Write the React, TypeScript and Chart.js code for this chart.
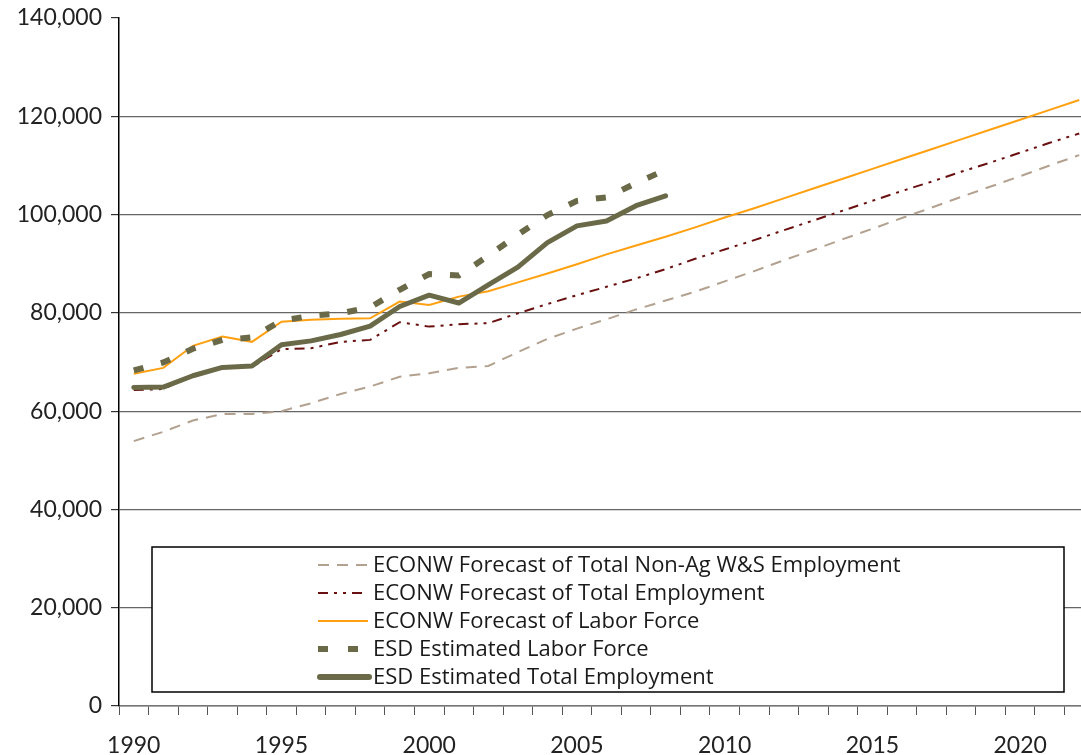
import React, { useEffect, useRef } from "react";
import { Chart, registerables } from "chart.js";

Chart.register(...registerables);

const years: number[] = [
  1990, 1991, 1992, 1993, 1994, 1995, 1996, 1997, 1998, 1999, 2000, 2001, 2002, 2003, 2004, 2005, 2006,
  2007, 2008, 2009, 2010, 2011, 2012, 2013, 2014, 2015, 2016, 2017, 2018, 2019, 2020, 2021, 2022,
];

const econwNonAg: number[] = [
  53900, 55800, 58100, 59400, 59400, 60000, 61600, 63500, 65000, 67000, 67700, 68800, 69200, 72000, 74700,
  76800, 78700, 80700, 82500, 84300, 86400, 88500, 90700, 92800, 95000, 97100, 99300, 101400, 103600,
  105700, 107800, 110000, 112100,
];

const econwTotalEmp: number[] = [
  64300, 64500, 67400, 69000, 69000, 72600, 72800, 74100, 74500, 78100, 77200, 77700, 77900, 79900, 81800,
  83600, 85300, 87000, 88900, 91000, 92900, 94800, 96800, 98800, 100800, 102800, 104800, 106700, 108700,
  110600, 112600, 114600, 116500,
];

const econwLaborForce: number[] = [
  67600, 68800, 73300, 75200, 74100, 78200, 78600, 78800, 78900, 82300, 81600, 83300, 84400, 86200, 88000,
  89900, 91900, 93700, 95500, 97400, 99400, 101300, 103300, 105300, 107300, 109300, 111300, 113300, 115300,
  117300, 119300, 121300, 123300,
];

const esdLaborForce: (number | null)[] = [
  68300, 69900, 72700, 74500, 75000, 78400, 79400, 79900, 81100, 84700, 87900, 87600, 91600, 95900, 99900,
  102800, 103500, 106400, 109100,
];

const esdTotalEmp: (number | null)[] = [
  64800, 64900, 67200, 68900, 69200, 73500, 74300, 75600, 77300, 81300, 83600, 82000, 85700, 89300, 94300,
  97700, 98700, 101800, 103800,
];

const seriesNames: string[] = [
  "ECONW Forecast of Total Non-Ag W&S Employment",
  "ECONW Forecast of Total Employment",
  "ECONW Forecast of Labor Force",
  "ESD Estimated Labor Force",
  "ESD Estimated Total Employment",
];

const TAN = "#b3a190";
const DARKRED = "#6a1010";
const ORANGE = "#ffa010";
const OLIVE = "#6b6a48";

const tickFont = { family: "Lato, 'Open Sans', sans-serif", size: 23 };

const legendPlugin = {
  id: "boxLegend",
  afterDatasetsDraw(chart: any) {
    const ctx = chart.ctx as CanvasRenderingContext2D;
    ctx.save();
    const left = 152, top = 547, w = 912, h = 145;
    ctx.fillStyle = "#ffffff";
    ctx.fillRect(left, top, w, h);
    ctx.strokeStyle = "#000000";
    ctx.lineWidth = 1.5;
    ctx.setLineDash([]);
    ctx.strokeRect(left, top, w, h);

    const styles = [
      { color: TAN, width: 2, dash: [11, 8], cap: "butt" },
      { color: DARKRED, width: 2, dash: [10, 6, 3, 6, 3, 6], cap: "butt" },
      { color: ORANGE, width: 2, dash: [], cap: "butt" },
      { color: OLIVE, width: 6, dash: [10, 20], cap: "butt" },
      { color: OLIVE, width: 6, dash: [], cap: "round" },
    ];
    ctx.font = "22px 'Open Sans', 'Noto Sans', sans-serif";
    ctx.textBaseline = "middle";
    ctx.textAlign = "left";
    seriesNames.forEach((name, i) => {
      const y = 565 + i * 28;
      const s = styles[i];
      ctx.beginPath();
      ctx.strokeStyle = s.color;
      ctx.lineWidth = s.width;
      ctx.setLineDash(s.dash);
      ctx.lineCap = s.cap as CanvasLineCap;
      const x0 = i === 4 ? 320 : 318;
      const x1 = i === 4 ? 369 : 368;
      ctx.moveTo(x0, y);
      ctx.lineTo(x1, y);
      ctx.stroke();
      ctx.setLineDash([]);
      ctx.fillStyle = "#1a1a1a";
      ctx.fillText(name, 373, y + 1);
    });
    ctx.restore();
  },
};

export default function App() {
  const canvasRef = useRef<HTMLCanvasElement | null>(null);

  useEffect(() => {
    const canvas = canvasRef.current;
    if (!canvas) return;
    const chart = new Chart(canvas, {
      type: "line",
      data: {
        labels: years.map(String),
        datasets: [
          {
            label: seriesNames[0],
            data: econwNonAg,
            borderColor: TAN,
            borderWidth: 2,
            borderDash: [11, 8],
            pointRadius: 0,
            tension: 0,
            order: 5,
          },
          {
            label: seriesNames[1],
            data: econwTotalEmp,
            borderColor: DARKRED,
            borderWidth: 2,
            borderDash: [10, 6, 3, 6, 3, 6],
            pointRadius: 0,
            tension: 0,
            order: 4,
          },
          {
            label: seriesNames[2],
            data: econwLaborForce,
            borderColor: ORANGE,
            borderWidth: 2,
            pointRadius: 0,
            tension: 0,
            order: 3,
          },
          {
            label: seriesNames[3],
            data: esdLaborForce,
            borderColor: OLIVE,
            borderWidth: 6,
            borderDash: [10, 18],
            borderCapStyle: "butt",
            pointRadius: 0,
            tension: 0,
            order: 2,
          },
          {
            label: seriesNames[4],
            data: esdTotalEmp,
            borderColor: OLIVE,
            borderWidth: 5,
            borderCapStyle: "round",
            borderJoinStyle: "round",
            pointRadius: 0,
            tension: 0,
            order: 1,
          },
        ],
      },
      options: {
        responsive: false,
        animation: false,
        devicePixelRatio: 1,
        layout: { padding: { top: 18, left: 0, right: 0, bottom: 0 } },
        plugins: {
          legend: { display: false },
          tooltip: { enabled: false },
        },
        scales: {
          x: {
            type: "category",
            offset: true,
            grid: {
              display: true,
              drawOnChartArea: false,
              drawTicks: true,
              tickLength: 9,
              offset: true,
              color: "#555",
            },
            border: { display: true, color: "#777", width: 1.5 },
            ticks: {
              autoSkip: false,
              maxRotation: 0,
              minRotation: 0,
              padding: 17,
              color: "#222",
              font: tickFont,
              callback: (_v: any, i: number) => (years[i] % 5 === 0 ? String(years[i]) : ""),
            },
            afterFit: (scale: any) => {
              scale.height = 49;
              scale.paddingLeft = 0;
              scale.paddingRight = 0;
            },
          },
          y: {
            min: 0,
            max: 140000,
            grid: {
              color: (c: any) => (c.tick && c.tick.value === 140000 ? "rgba(0,0,0,0)" : "#666"),
              tickColor: "#333",
              tickLength: 8,
              lineWidth: 1.2,
            },
            border: { display: true, color: "#000", width: 1.5 },
            ticks: {
              stepSize: 20000,
              padding: 9,
              color: "#222",
              font: tickFont,
              callback: (v: any) => Number(v).toLocaleString("en-US"),
            },
            afterFit: (scale: any) => {
              scale.width = 119;
              scale.paddingTop = 0;
              scale.paddingBottom = 0;
            },
          },
        },
      },
      plugins: [legendPlugin],
    });
    return () => chart.destroy();
  }, []);

  return (
    <div
      style={{
        position: "fixed",
        left: 0,
        top: 0,
        width: 1081,
        height: 755,
        overflow: "hidden",
        background: "#fff",
      }}
    >
      <canvas ref={canvasRef} width={1094} height={755} style={{ display: "block" }} />
    </div>
  );
}
